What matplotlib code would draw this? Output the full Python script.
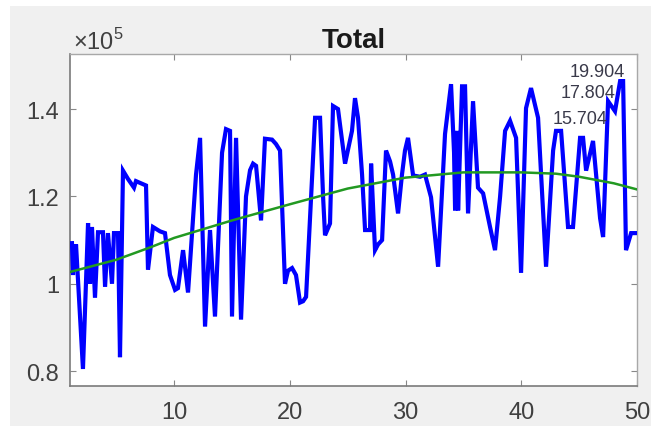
import numpy as np
import matplotlib
matplotlib.use("Agg")
import matplotlib.pyplot as plt
from matplotlib.patches import Rectangle

SCALE = 1e5

# Raw total series (x position, value in units of 1e5)
total_x = [1.17, 1.26, 1.35, 1.43, 1.52, 2.12, 2.56, 2.73, 2.90, 3.16, 3.42, 3.85,
           4.03, 4.28, 4.63, 4.80, 5.15, 5.32, 5.58, 6.01, 6.53, 6.70, 7.57, 7.74,
           8.17, 8.78, 9.21, 9.64, 10.08, 10.33, 10.77, 11.20, 11.89, 12.24, 12.67,
           13.10, 13.53, 14.14, 14.48, 14.83, 15.00, 15.35, 15.78, 16.21, 16.56,
           16.82, 17.08, 17.51, 17.85, 18.46, 18.80, 19.15, 19.58, 19.84, 20.19,
           20.53, 20.88, 21.14, 21.40, 21.92, 22.18, 22.61, 22.87, 23.04, 23.47,
           23.73, 24.16, 24.77, 25.37, 25.63, 25.89, 26.24, 26.50, 26.93, 27.02,
           27.36, 27.62, 27.97, 28.31, 28.66, 28.92, 29.35, 29.69, 29.95, 30.21,
           30.65, 31.25, 31.68, 32.20, 32.81, 33.41, 33.93, 34.19, 34.28, 34.45,
           34.54, 34.88, 35.14, 35.40, 35.83, 36.26, 36.70, 37.30, 37.73, 38.17,
           38.60, 39.03, 39.55, 39.98, 40.41, 40.84, 41.45, 42.14, 42.75, 43.00,
           43.44, 44.04, 44.47, 45.08, 45.34, 45.60, 46.20, 46.81, 47.07, 47.50,
           48.10, 48.54, 48.80, 49.05, 49.49, 49.92]
total_y = [1.093, 1.020, 1.090, 1.030, 1.090, 0.805, 1.139, 1.000, 1.130, 0.968, 1.118, 1.118,
           0.993, 1.116, 1.000, 1.116, 1.116, 0.832, 1.259, 1.240, 1.220, 1.235, 1.225, 1.032,
           1.130, 1.120, 1.116, 1.020, 0.986, 0.990, 1.077, 0.980, 1.250, 1.334, 0.902,
           1.123, 0.925, 1.300, 1.354, 1.350, 0.925, 1.334, 0.918, 1.200, 1.260,
           1.275, 1.270, 1.145, 1.332, 1.330, 1.320, 1.305, 1.000, 1.030, 1.036,
           1.020, 0.957, 0.960, 0.970, 1.243, 1.380, 1.380, 1.200, 1.111, 1.138,
           1.407, 1.400, 1.275, 1.350, 1.425, 1.380, 1.250, 1.123, 1.123, 1.275,
           1.077, 1.090, 1.100, 1.305, 1.280, 1.250, 1.161, 1.250, 1.305, 1.334,
           1.248, 1.245, 1.250, 1.198, 1.039, 1.343, 1.457, 1.300, 1.168, 1.350,
           1.168, 1.452, 1.452, 1.161, 1.418, 1.220, 1.207, 1.130, 1.077, 1.200,
           1.350, 1.373, 1.334, 1.025, 1.402, 1.448, 1.380, 1.039, 1.305, 1.350,
           1.350, 1.130, 1.130, 1.334, 1.334, 1.259, 1.327, 1.150, 1.107, 1.418,
           1.395, 1.464, 1.464, 1.077, 1.116, 1.116]

# Smoothed trend
trend_x = [1, 5, 8, 10, 15, 20, 25, 30, 35, 40, 43, 45, 48, 50]
trend_y = [1.027, 1.055, 1.084, 1.105, 1.145, 1.182, 1.218, 1.243, 1.255, 1.255,
           1.252, 1.245, 1.230, 1.216]

# Labels in the upper right corner
note_text = ["19.904", "17.804", "15.704"]
note_x = [46.6, 45.8, 45.1]
note_y = [1.486, 1.438, 1.378]

x_ticks = [10, 20, 30, 40, 50]
y_ticks = [0.8, 1.0, 1.2, 1.4]
y_tick_labels = ["0.8", "1", "1.2", "1.4"]

plt.rcParams["font.family"] = ["Liberation Sans", "DejaVu Sans"]
plt.rcParams["mathtext.fontset"] = "custom"
plt.rcParams["mathtext.rm"] = "Liberation Sans"

W, H = 651, 427
fig = plt.figure(figsize=(W / 100, H / 100), dpi=100)
fig.patch.set_facecolor("white")
fig.patches.append(Rectangle((10 / W, 0), 1 - 10 / W, (H - 7) / H,
                             transform=fig.transFigure, facecolor="#f0f0f0",
                             edgecolor="none", zorder=-10))

ax = fig.add_axes([70 / W, (H - 387) / H, (637 - 70) / W, (387 - 55) / H])
ax.set_facecolor("white")

ax.plot(total_x, np.array(total_y) * SCALE, color="#0000ff", lw=3.0,
        solid_joinstyle="miter", zorder=3)
ax.plot(trend_x, np.array(trend_y) * SCALE, color="#229922", lw=1.8, zorder=4)

for t, xx, yy in zip(note_text, note_x, note_y):
    ax.text(xx, yy * SCALE, t, fontsize=13, color="#3a3a4a",
            ha="center", va="center", zorder=5)

ax.set_xlim(1, 50)
ax.set_ylim(0.766 * SCALE, 1.526 * SCALE)
ax.set_xticks(x_ticks)
ax.set_xticklabels([str(v) for v in x_ticks])
ax.set_yticks([v * SCALE for v in y_ticks])
ax.set_yticklabels(y_tick_labels)

ax.tick_params(axis="both", direction="in", length=4, width=0.8, color="#888888",
               labelcolor="#404040", labelsize=17, top=True, right=True)
ax.tick_params(axis="x", pad=11)
ax.tick_params(axis="y", pad=8)

for side in ["left", "bottom"]:
    ax.spines[side].set_color("#7a7a7a")
    ax.spines[side].set_linewidth(1.2)
for side in ["top", "right"]:
    ax.spines[side].set_color("#a8a8a8")
    ax.spines[side].set_linewidth(1.0)

ax.set_title("Total", fontsize=20, fontweight="bold", color="#1a1a1a", pad=5)

fig.text(73 / W, 1 - 50 / H, "\u00d710$^{5}$", fontsize=17, color="#404040",
         ha="left", va="baseline")

fig.savefig("out.png", dpi=100, facecolor=fig.get_facecolor())
